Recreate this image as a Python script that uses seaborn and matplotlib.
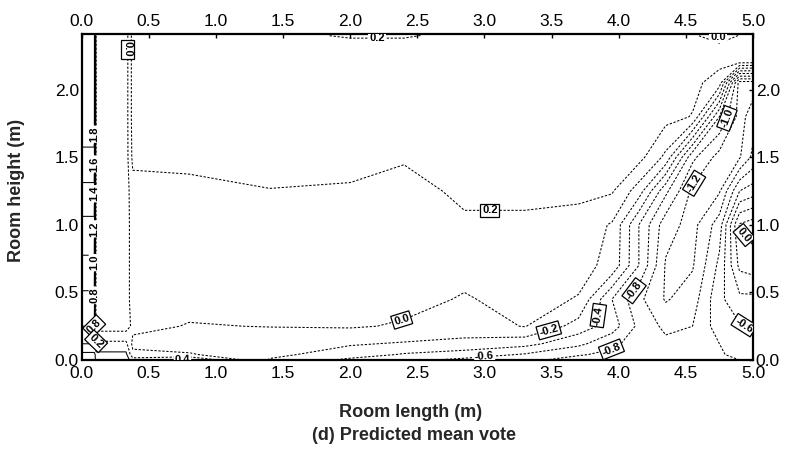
import numpy as np
import matplotlib
matplotlib.use("Agg")
import matplotlib.pyplot as plt
import seaborn as sns

# ---- data: PMV field (rectilinear grid) ----
x_nodes = [0.0, 0.093, 0.107, 0.33, 0.38, 0.8, 1.4, 2.0, 2.4, 2.85, 3.3,
           3.7, 3.95, 4.15, 4.35, 4.55, 4.75, 4.9, 5.0]
y_nodes = [0.0, 0.04, 0.12, 0.25, 0.45, 0.7, 1.0, 1.25, 1.5, 1.8, 2.05, 2.2,
           2.33, 2.4]
pmv = [
    [0.25, 0.25, 0.5, 0.5, 0.3, 0.45, -0.22, -0.45, -0.55, -0.65, -0.75, -0.88, -0.92, -0.95, -0.95, -0.92, -0.85, -0.8, -0.8],
    [0.35, 0.35, 0.45, 0.45, 0.05, 0.02, -0.15, -0.3, -0.42, -0.5, -0.62, -0.78, -0.85, -0.92, -0.93, -0.9, -0.82, -0.75, -0.75],
    [0.6, 0.6, 0.25, 0.25, -0.05, -0.1, -0.1, -0.18, -0.22, -0.25, -0.33, -0.55, -0.75, -0.9, -0.95, -0.9, -0.8, -0.7, -0.7],
    [0.8, 0.8, -0.1, -0.1, 0.05, -0.01, 0.005, 0.02, -0.02, -0.1, 0.01, -0.28, -0.5, -0.85, -1.05, -1.0, -0.7, -0.62, -0.58],
    [0.95, 0.95, -0.1, -0.1, 0.1, 0.06, 0.07, 0.07, 0.06, -0.015, 0.06, -0.01, -0.6, -0.95, -1.22, -1.1, -0.65, -0.45, -0.45],
    [1.15, 1.15, -0.1, -0.1, 0.1, 0.1, 0.1, 0.1, 0.09, 0.06, 0.09, 0.06, -0.05, -0.6, -1.22, -1.22, -0.75, -0.15, -0.1],
    [1.35, 1.35, -0.1, -0.1, 0.1, 0.1, 0.12, 0.12, 0.1, 0.17, 0.17, 0.12, -0.02, -0.6, -1.12, -1.27, -0.9, 0.02, 0.1],
    [1.55, 1.55, -0.1, -0.1, 0.12, 0.14, 0.195, 0.18, 0.13, 0.24, 0.24, 0.25, 0.22, -0.1, -0.75, -1.25, -1.22, -0.6, -0.5],
    [1.75, 1.75, -0.1, -0.1, 0.25, 0.26, 0.26, 0.26, 0.22, 0.27, 0.27, 0.27, 0.27, 0.27, -0.05, -0.95, -1.28, -1.22, -0.95],
    [1.95, 1.95, -0.1, -0.1, 0.28, 0.28, 0.28, 0.28, 0.27, 0.28, 0.28, 0.28, 0.28, 0.28, 0.27, 0.19, -0.8, -1.28, -1.1],
    [2.0, 2.0, -0.1, -0.1, 0.28, 0.28, 0.28, 0.28, 0.28, 0.28, 0.28, 0.28, 0.28, 0.28, 0.28, 0.26, 0.1, -1.3, -1.3],
    [2.0, 2.0, -0.1, -0.1, 0.28, 0.28, 0.28, 0.28, 0.28, 0.28, 0.28, 0.28, 0.28, 0.28, 0.28, 0.27, 0.25, 0.22, 0.21],
    [2.0, 2.0, -0.1, -0.1, 0.28, 0.28, 0.28, 0.28, 0.28, 0.28, 0.28, 0.28, 0.28, 0.28, 0.28, 0.27, 0.26, 0.22, 0.23],
    [2.0, 2.0, -0.1, -0.1, 0.28, 0.28, 0.28, 0.17, 0.17, 0.28, 0.28, 0.28, 0.28, 0.28, 0.28, 0.27, -0.05, 0.22, 0.25],
]
contour_levels = [-1.2, -1.0, -0.8, -0.6, -0.4, -0.2, 0.0, 0.2, 0.4, 0.6,
                  0.8, 1.0, 1.2, 1.4, 1.6, 1.8]
x_ticks = [0.0, 0.5, 1.0, 1.5, 2.0, 2.5, 3.0, 3.5, 4.0, 4.5, 5.0]
y_ticks = [0.0, 0.5, 1.0, 1.5, 2.0]

# label placements (level, x, y, boxed)
label_specs = [
    (0.0, 0.33, 2.30, True), (0.2, 3.04, 1.06, True), (0.0, 2.39, 0.27, True),
    (-0.2, 3.49, 0.18, True), (-0.4, 3.91, 0.32, True), (-0.8, 4.13, 0.50, True),
    (-1.0, 4.80, 1.79, True), (-1.2, 4.60, 1.28, True), (0.0, 4.93, 0.92, True),
    (-0.6, 4.93, 0.25, True), (-0.8, 3.95, 0.06, True), (-0.6, 3.00, 0.02, False),
    (0.8, 0.10, 0.24, True), (0.2, 0.08, 0.04, True),
    (0.8, 0.10, 0.48, False), (1.0, 0.10, 0.72, False), (1.2, 0.10, 0.97, False),
    (1.4, 0.10, 1.23, False), (1.6, 0.10, 1.45, False), (1.8, 0.10, 1.67, False),
    (0.2, 2.20, 2.39, False), (0.0, 4.74, 2.39, False), (0.4, 0.75, 0.0, False),
]

sns.set_style("white")
plt.rcParams['font.family'] = ['Liberation Sans', 'DejaVu Sans']

fig = plt.figure(figsize=(7.86, 4.5), dpi=100)
ax = fig.add_axes([0.104, 0.2, 0.854, 0.724])

X, Y = np.meshgrid(np.array(x_nodes), np.array(y_nodes))
Z = np.array(pmv)

# one contour set per level so labels can target a single level
cs_by_level = {}
for lvl in contour_levels:
    style = 'solid' if lvl >= 0.4 else (0, (2.2, 1.6))
    cs_by_level[lvl] = ax.contour(X, Y, Z, levels=[lvl], colors='black',
                                  linewidths=0.75, linestyles=[style])

for lvl, lx, ly, boxed in label_specs:
    n0 = len(ax.texts)
    try:
        cs_by_level[lvl].clabel(manual=[(lx, ly)], inline=True,
                                inline_spacing=2, fontsize=8,
                                fmt=lambda v: f"{v:.1f}")
    except Exception:
        continue
    for t in ax.texts[n0:]:
        t.set_fontweight('bold')
        if boxed:
            t.set_bbox(dict(boxstyle='square,pad=0.15', fc='white',
                            ec='black', lw=0.9))
        else:
            t.set_bbox(dict(boxstyle='square,pad=0.08', fc='white',
                            ec='none'))

ax.set_xlim(0, 5.0)
ax.set_ylim(0, 2.41)
ax.set_xticks(x_ticks)
ax.set_yticks(y_ticks)
ax.set_xticklabels([f"{v:.1f}" for v in x_ticks])
ax.set_yticklabels([f"{v:.1f}" for v in y_ticks])
ax.tick_params(axis='both', which='both', direction='in', length=3,
               width=1, top=True, right=True, labeltop=True, labelright=True,
               labelsize=12.5, pad=2, colors='black')
ax.tick_params(axis='x', pad=4)
for s in ax.spines.values():
    s.set_linewidth(1.6)
    s.set_color('black')

ax.set_xlabel("Room length (m)", fontsize=13, fontweight='bold')
ax.xaxis.set_label_coords(0.49, -0.135)
ax.set_ylabel("Room height (m)", fontsize=13, fontweight='bold')
ax.yaxis.set_label_coords(-0.085, 0.52)
fig.text(0.527, 0.033, "(d) Predicted mean vote", fontsize=13,
         fontweight='bold', ha='center', va='center')

fig.savefig("out.png", dpi=100, facecolor='white')
